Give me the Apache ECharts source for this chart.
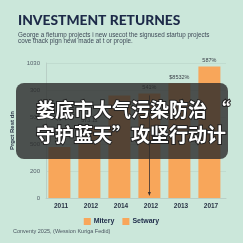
<!DOCTYPE html>
<html><head><meta charset="utf-8">
<script src="https://cdn.jsdelivr.net/npm/echarts@6/dist/echarts.min.js"></script>
<style>html,body{margin:0;padding:0;background:#cbe7da;}#c{width:243px;height:243px;}</style>
</head><body><div id="c"></div>
<script>
var categories = ['2011','2012','2014','2012','2013','2017'];
var seriesNames = ['Mitery','Setwary'];
var miteryValues = [378, 530, 760, 775, 850, 975];
var setwaryValues = [];
var barLabels = ['', '373.11', '', '541%', '$8532%', '587%'];
var yTickValues = [0, 200, 400, 600, 800, 1000];
var yTickLabels = ['0', '200', '500', '500', '300', '1030'];
var arrowFrom = 760, arrowTo = 30;

var chart = echarts.init(document.getElementById('c'), null, {renderer:'canvas'});
var labelMap = {};
yTickValues.forEach(function(v,i){ labelMap[v] = yTickLabels[i]; });
chart.setOption({
  backgroundColor: '#cbe7da',
  animation: false,
  title: {
    left: 13, top: 9,
    text: 'INVESTMENT RETURNES',
    textStyle: {fontFamily: 'Lato', fontWeight: 900, fontSize: 13.8, color: '#1d2a48'},
    subtext: 'George a fietump projects i new usecot the signused startup projects\ncove thack plgn newi made at t or prople.',
    subtextStyle: {fontFamily: 'Liberation Sans', fontSize: 6.3, lineHeight: 6, color: '#3f4a58'},
    itemGap: 4
  },
  grid: {left: 46, right: 17, top: 63, bottom: 45},
  legend: {
    bottom: 13, left: 'center',
    itemWidth: 7, itemHeight: 7, itemGap: 8, icon: 'rect',
    textStyle: {fontFamily: 'Liberation Sans', fontWeight: 'bold', fontSize: 7, color: '#1d2a48', padding: [0,0,0,-2]},
    data: seriesNames
  },
  xAxis: {
    type: 'category', data: categories,
    axisLine: {lineStyle: {color: '#b9cfc6'}},
    axisTick: {show: false},
    axisLabel: {fontFamily: 'Liberation Sans', fontWeight: 'bold', fontSize: 6.5, color: '#2a3345', margin: 5}
  },
  yAxis: {
    type: 'value', min: 0, max: 1000, interval: 200,
    name: 'Prgct Rest dn', nameLocation: 'middle', nameGap: 20, nameRotate: 90,
    nameTextStyle: {fontFamily: 'Liberation Sans', fontWeight: 'bold', fontSize: 6, color: '#2a3345'},
    axisLine: {show: true, lineStyle: {color: '#b9cfc6'}},
    axisTick: {show: false},
    splitLine: {lineStyle: {color: '#bdd8cc', width: 0.8}},
    axisLabel: {fontFamily: 'Liberation Sans', fontSize: 6, color: '#55606a', margin: 6,
      formatter: function(v){ return labelMap[v] !== undefined ? labelMap[v] : v; }}
  },
  series: [
    {
      name: seriesNames[0], type: 'bar', data: miteryValues, barWidth: 22,
      itemStyle: {color: '#f8a65a'},
      label: {show: true, position: 'top', distance: 3, fontFamily: 'Liberation Sans', fontSize: 5.5, color: '#3a3f48',
        formatter: function(p){ return barLabels[p.dataIndex]; }},
      markLine: {
        symbol: ['none', 'triangle'], symbolSize: [3, 4], silent: true,
        lineStyle: {color: '#3a3030', width: 0.8, type: 'solid'},
        label: {show: false},
        data: [[{coord: [3, arrowFrom]}, {coord: [3, arrowTo]}]]
      }
    },
    {name: seriesNames[1], type: 'bar', data: setwaryValues, itemStyle: {color: '#f8a65a'}}
  ],
  graphic: [
    {type: 'rect', left: 16, top: 83, shape: {width: 212, height: 76, r: 8},
      style: {fill: 'rgba(42,42,42,0.80)'}, z: 100},
    {type: 'text', left: 35, top: 99, z: 101,
      style: {text: '娄底市大气污染防治 “', fontFamily: 'Noto Sans CJK SC', fontWeight: 'bold', fontSize: 19,
        fill: '#ffffff', stroke: '#222', lineWidth: 2}},
    {type: 'text', left: 35, top: 124, z: 101,
      style: {text: '守护蓝天”攻坚行动计', fontFamily: 'Noto Sans CJK SC', fontWeight: 'bold', fontSize: 19,
        fill: '#ffffff', stroke: '#222', lineWidth: 2}},
    {type: 'text', left: 13, top: 228,
      style: {text: 'Conventy 2025, (Wession Kuriga Fedid)', fontFamily: 'Liberation Sans', fontSize: 5.5, fill: '#4a5560'}}
  ]
});
</script></body></html>
